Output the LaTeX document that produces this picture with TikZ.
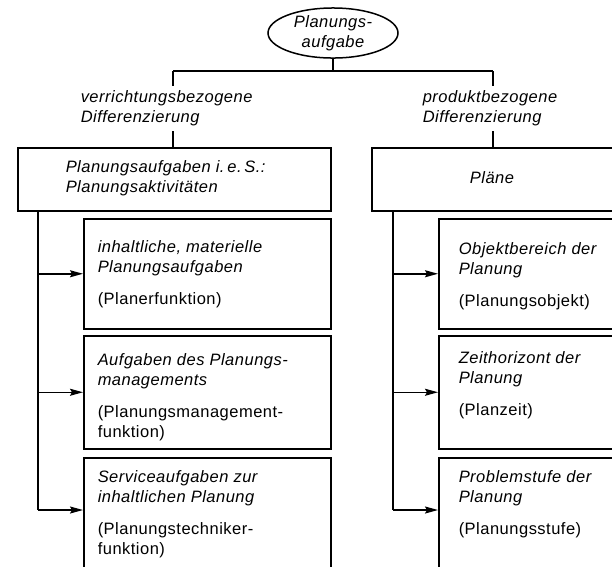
\documentclass[tikz,border=0pt]{standalone}
\usepackage{fontspec}
\setmainfont{Liberation Sans}[LetterSpace=3]
\usetikzlibrary{arrows.meta,shapes.geometric}
\begin{document}
\begin{tikzpicture}[x=1pt,y=-1pt,
  line width=1.5pt,
  box/.style={draw, line width=1.5pt, inner sep=0pt, anchor=north west},
  txt/.style={anchor=north west, inner sep=0pt, align=left,
    font=\fontsize{16.5}{20}\selectfont\itshape},
  arr/.style={-{Stealth[length=13pt,width=7pt,inset=2pt]}}]
\useasboundingbox (0,0) rectangle (612,566);
% root
\node[draw, ellipse, minimum width=130pt, minimum height=48pt, inner sep=0pt, align=center,
  font=\fontsize{16.5}{20}\selectfont\itshape] (root) at (333,33) {Planungs-\\aufgabe};
\coordinate (jl) at (173,71);
\coordinate (jr) at (493,71);
\coordinate (jm) at (333,71);
% branch labels
\node[txt] (lt) at (80,90) {verrichtungsbezogene\\Differenzierung};
\node[txt] (rt) at (422,90) {produktbezogene\\Differenzierung};
\coordinate (lta) at (173,86);
\coordinate (ltb) at (173,131);
\coordinate (rta) at (493,86);
\coordinate (rtb) at (493,131);
% main boxes
\node[box, minimum width=313pt, minimum height=63pt] (L0) at (17,147) {};
\node[box, minimum width=270pt, minimum height=63pt] (R0) at (371,147) {};
\node[txt] (L0t) at (65,160) {Planungsaufgaben i.\,e.\,S.:\\Planungsaktivitäten};
\node[txt, anchor=north] (R0t) at (492,171) {Pläne};
% left sub boxes
\node[box, minimum width=247pt, minimum height=110pt] (L1) at (83,218) {};
\node[box, minimum width=247pt, minimum height=113pt] (L2) at (83,335) {};
\node[box, minimum width=247pt, minimum height=120pt] (L3) at (83,457) {};
\node[txt] (L1t) at (97,240) {inhaltliche, materielle\\Planungsaufgaben\\[12pt]\upshape(Planerfunktion)};
\node[txt] (L2t) at (97,353) {Aufgaben des Planungs-\\managements\\[12pt]\upshape(Planungsmanagement-\\\upshape funktion)};
\node[txt] (L3t) at (97,470) {Serviceaufgaben zur\\inhaltlichen Planung\\[12pt]\upshape(Planungstechniker-\\\upshape funktion)};
% right sub boxes
\node[box, minimum width=200pt, minimum height=110pt] (R1) at (438,218) {};
\node[box, minimum width=200pt, minimum height=113pt] (R2) at (438,335) {};
\node[box, minimum width=200pt, minimum height=120pt] (R3) at (438,457) {};
\node[txt] (R1t) at (458,242) {Objektbereich der\\Planung\\[12pt]\upshape(Planungsobjekt)};
\node[txt] (R2t) at (458,351) {Zeithorizont der\\Planung\\[12pt]\upshape(Planzeit)};
\node[txt] (R3t) at (458,470) {Problemstufe der\\Planung\\[12pt]\upshape(Planungsstufe)};
% trunk coordinates
\coordinate (tl) at (38,0);
\coordinate (tr) at (393,0);
\coordinate (a3l) at (83,510);
\coordinate (a3r) at (438,510);
% connectors
\draw (root.south) -- (jm);
\draw (jl) -- (jr);
\draw (jl) -- (lta);
\draw (ltb) -- (ltb |- L0.north);
\draw (jr) -- (rta);
\draw (rtb) -- (rtb |- R0.north);
\draw (tl |- L0.south) -- (tl |- a3l);
\draw[arr] (tl |- a3l) -- (a3l);
\draw[arr] (tl |- L1.west) -- (L1.west);
\draw[arr] (tl |- L2.west) -- (L2.west);
\draw (tr |- R0.south) -- (tr |- a3r);
\draw[arr] (tr |- a3r) -- (a3r);
\draw[arr] (tr |- R1.west) -- (R1.west);
\draw[arr] (tr |- R2.west) -- (R2.west);
\end{tikzpicture}
\end{document}
